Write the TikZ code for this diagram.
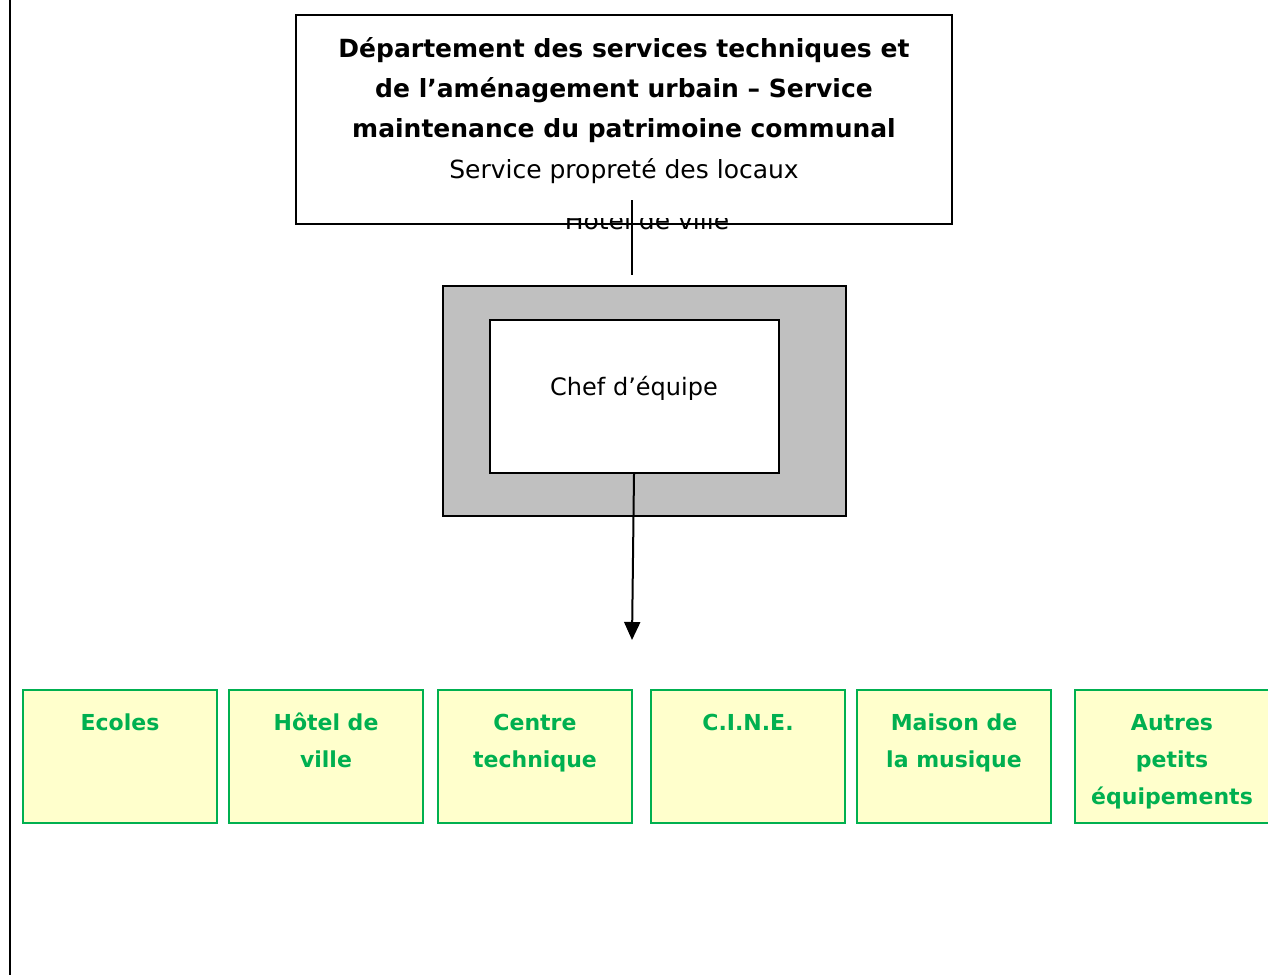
\documentclass[tikz,border=0pt]{standalone}
\usepackage{fontspec}
\setmainfont{DejaVu Sans}
\usepackage{tikz}
\usetikzlibrary{arrows.meta}
\definecolor{vertlieu}{RGB}{0,176,80}
\definecolor{jaunelieu}{RGB}{255,255,204}
\definecolor{grischef}{RGB}{192,192,192}
\tikzset{
	cadre/.style={draw=black,line width=2pt,fill=white,inner sep=0pt},
	lieu/.style={draw=vertlieu,line width=2.5pt,fill=jaunelieu,inner sep=0pt,minimum width=194pt,minimum height=133pt},
	titre/.style={font=\fontsize{25}{40}\selectfont\bfseries,anchor=base,inner sep=0pt},
	texte/.style={font=\fontsize{25}{40}\selectfont,anchor=base,inner sep=0pt},
	nomlieu/.style={font=\fontsize{22}{37}\selectfont\bfseries,text=vertlieu,anchor=base,inner sep=0pt}
}

\begin{document}
\begin{tikzpicture}[x=1pt,y=-1pt]
	\useasboundingbox (0,0) rectangle (1268,975);
	\draw[line width=2.5pt] (10,0) -- (10,975);
	% direction
	\node[cadre,minimum width=656pt,minimum height=209pt] (dept) at (624,119.5) {};
	\foreach \ligne [count=\i] in {D\'epartement des services techniques et,de l'am\'enagement urbain -- Service,maintenance du patrimoine communal}
		\node[titre] (dept\i) at (624,{57+40.3*(\i-1)}) {\ligne};
	\node[texte] (dept4) at (624,178) {Service propret\'e des locaux};
	\begin{scope}
		\clip (540,218) rectangle (760,240);
		\node[texte] (hotel) at (647,229) {H\^otel de ville};
	\end{scope}
	\coordinate (haut) at (632,200);
	\coordinate (bas) at (632,275);
	\draw[line width=1.8pt] (haut) -- (bas);
	% chef d'equipe
	\node[draw=black,line width=2pt,fill=grischef,minimum width=403pt,minimum height=230pt] (cadrechef) at (644.5,401) {};
	\node[cadre,minimum width=289pt,minimum height=153pt] (chef) at (634.5,396.5) {};
	\node[texte,font=\fontsize{24}{30}\selectfont] (cheftxt) at (634,395) {Chef d'\'equipe};
	\coordinate (fleche) at (632,640);
	\draw[line width=2pt,-{Triangle[length=18pt,width=16pt]}] (chef.south -| 634,0) -- (fleche);
	% lieux
	\node[lieu] (ecoles) at (120,756.5) {};
	\node[lieu] (hdv) at (326,756.5) {};
	\node[lieu] (centre) at (535,756.5) {};
	\node[lieu] (cine) at (748,756.5) {};
	\node[lieu] (maison) at (954,756.5) {};
	\node[lieu] (autres) at (1172,756.5) {};
	\node[nomlieu] (ecoles1) at (120,730) {Ecoles};
	\node[nomlieu] (hdv1) at (326,730) {H\^otel de};
	\node[nomlieu] (hdv2) at (326,767) {ville};
	\node[nomlieu] (centre1) at (535,730) {Centre};
	\node[nomlieu] (centre2) at (535,767) {technique};
	\node[nomlieu] (cine1) at (748,730) {C.I.N.E.};
	\node[nomlieu] (maison1) at (954,730) {Maison de};
	\node[nomlieu] (maison2) at (954,767) {la musique};
	\node[nomlieu] (autres1) at (1172,730) {Autres};
	\node[nomlieu] (autres2) at (1172,767) {petits};
	\node[nomlieu] (autres3) at (1172,804) {\'equipements};
\end{tikzpicture}
\end{document}
